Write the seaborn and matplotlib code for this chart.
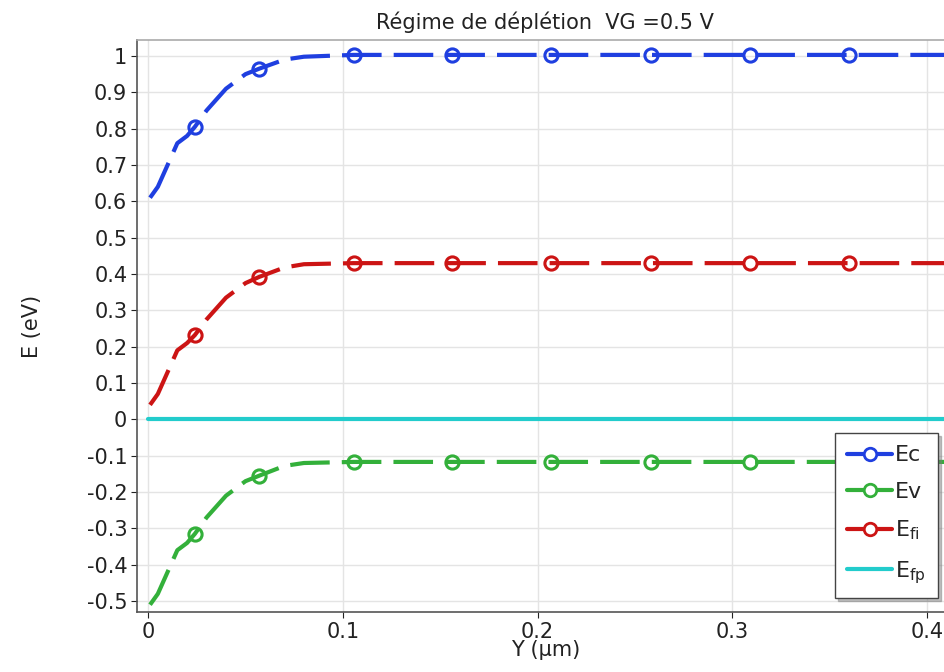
import numpy as np
import pandas as pd
import matplotlib
matplotlib.use("Agg")
import matplotlib.pyplot as plt
from matplotlib.lines import Line2D
from matplotlib.ticker import FixedLocator, FuncFormatter
import seaborn as sns

# ---- data ----
y_pos = [0.001, 0.005, 0.010, 0.015, 0.020, 0.024, 0.030, 0.040, 0.050, 0.057,
         0.070, 0.080, 0.1055, 0.156, 0.207, 0.258, 0.309, 0.360, 0.42]
ec = [0.61, 0.64, 0.70, 0.76, 0.78, 0.805, 0.85, 0.91, 0.95, 0.965,
      0.99, 0.998, 1.003, 1.003, 1.003, 1.003, 1.003, 1.003, 1.003]
efi = [0.04, 0.07, 0.13, 0.19, 0.21, 0.232, 0.275, 0.335, 0.375, 0.392,
       0.418, 0.427, 0.430, 0.430, 0.430, 0.430, 0.430, 0.430, 0.430]
ev = [-0.51, -0.48, -0.42, -0.36, -0.34, -0.315, -0.27, -0.21, -0.17, -0.155,
      -0.128, -0.120, -0.117, -0.117, -0.117, -0.117, -0.117, -0.117, -0.117]
efp_x = [0.0, 0.42]
efp = [0.0, 0.0]
marker_idx = [5, 9, 12, 13, 14, 15, 16, 17]

labels = ["Ec", "Ev", r"E$_{\mathrm{fi}}$", r"E$_{\mathrm{fp}}$"]
title = "Régime de déplétion  VG =0.5 V"
x_ticks = [0, 0.1, 0.2, 0.3, 0.4]
y_ticks = [1, 0.9, 0.8, 0.7, 0.6, 0.5, 0.4, 0.3, 0.2, 0.1, 0, -0.1, -0.2, -0.3, -0.4, -0.5]

c_blue = "#1f3fe0"
c_green = "#33b03a"
c_red = "#cc1414"
c_cyan = "#22cccc"

sns.set_style("whitegrid")
plt.rcParams['font.family'] = ['DejaVu Sans']

fig = plt.figure(figsize=(9.44, 6.72), dpi=100)
ax = fig.add_axes([137/944, 1 - 612/672, (944 - 137)/944 + 0.01, (612 - 40)/672])

df = pd.DataFrame({"x": y_pos, "Ec": ec, "Efi": efi, "Ev": ev})
dash = (0, (9.5, 2.9))
for col, c in [("Ec", c_blue), ("Efi", c_red), ("Ev", c_green)]:
    sns.lineplot(data=df, x="x", y=col, ax=ax, color=c, lw=3, linestyle=dash,
                 marker="o", markevery=marker_idx, markersize=9.5,
                 markerfacecolor="none", markeredgecolor=c, markeredgewidth=2.2,
                 dash_capstyle="butt")
sns.lineplot(x=efp_x, y=efp, ax=ax, color=c_cyan, lw=3)

ax.set_xlim(-0.0057, 0.4135)
ax.set_ylim(-0.530, 1.044)
ax.xaxis.set_major_locator(FixedLocator(x_ticks))
ax.yaxis.set_major_locator(FixedLocator(y_ticks))
fmt = lambda v, p: ("%g" % round(v, 2)).replace("\u2212", "-")
ax.xaxis.set_major_formatter(FuncFormatter(fmt))
ax.yaxis.set_major_formatter(FuncFormatter(fmt))
ax.tick_params(axis="both", labelsize=15, colors="#222222", length=4,
               direction="out", left=True, bottom=True, pad=3)
ax.grid(True, color="#e4e4e4", lw=1)
for s in ["left", "bottom", "top"]:
    ax.spines[s].set_visible(True)
    ax.spines[s].set_color("#555555")
    ax.spines[s].set_linewidth(1.2)
ax.spines["top"].set_color("#aaaaaa")
ax.spines["right"].set_visible(False)

ax.set_xlabel("Y (µm)", fontsize=15, labelpad=-1, color="#222222")
ax.set_ylabel("E (eV)", fontsize=15, labelpad=32, color="#222222")
ax.set_title(title, fontsize=15, color="#222222", pad=8)

handles = [
    Line2D([], [], color=c_blue, lw=3, marker="o", markersize=9,
           markerfacecolor="white", markeredgewidth=2),
    Line2D([], [], color=c_green, lw=3, marker="o", markersize=9,
           markerfacecolor="white", markeredgewidth=2),
    Line2D([], [], color=c_red, lw=3, marker="o", markersize=9,
           markerfacecolor="white", markeredgewidth=2),
    Line2D([], [], color=c_cyan, lw=3),
]
leg = ax.legend(handles, labels, loc="lower right",
                bbox_to_anchor=(938/944, 1 - 598/672), bbox_transform=fig.transFigure,
                fontsize=16, frameon=True, fancybox=False, handlelength=2.0,
                handletextpad=0.15, labelspacing=0.75, borderpad=0.55,
                borderaxespad=0, framealpha=1, edgecolor="#444444",
                shadow={"color": "#777777", "alpha": 0.45})
leg.get_frame().set_linewidth(1)

fig.savefig("out.png", dpi=100)
